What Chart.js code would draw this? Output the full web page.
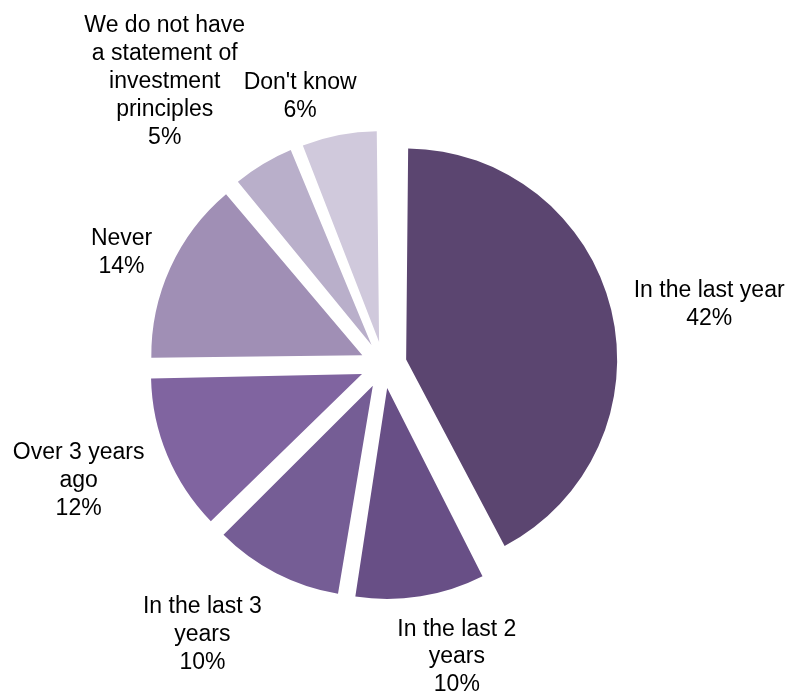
<!DOCTYPE html>
<html>
<head>
<meta charset="utf-8">
<title>When was the statement of investment principles last reviewed?</title>
<script src="https://cdn.jsdelivr.net/npm/chart.js@4/dist/chart.umd.min.js"></script>
<style>
  html, body { margin: 0; padding: 0; background: #ffffff; }
  #wrap { width: 791px; height: 691px; }
</style>
</head>
<body>
<div id="wrap"><canvas id="pie" width="791" height="691"></canvas></div>
<script>
// Answer categories (each entry holds the wrapped lines of the label)
const categories = [
  ['In the last year'],
  ['In the last 2', 'years'],
  ['In the last 3', 'years'],
  ['Over 3 years', 'ago'],
  ['Never'],
  ['We do not have', 'a statement of', 'investment', 'principles'],
  ["Don't know"]
];

// Share of respondents, in percent
const shares = [42, 10, 10, 12, 14, 5, 6];

// Slice fills, darkest for the first answer
const sliceColors = ['#5B4570', '#684F86', '#755D95', '#8064A0', '#A08FB5', '#B9AFCA', '#D0C9DC'];

// Geometry and label styling
const PIE_RADIUS = 211;
const EXPLODE = 23.3;            // distance each slice is pulled out from the centre
const LABEL_GAP = 12;
const LABEL_FONT = '23px "Liberation Sans", Arial, Helvetica, sans-serif';
const LINE_HEIGHT = 27.8;
const labelNudge = [[13, 3], [25, 6], [-41, 12], [-17, 3], [-10, 0], [-51, -14], [-26, -1]];

// Chart.js grows an offset arc's radius a little; undo that so every slice keeps the same radius
const evenRadius = {
  id: 'evenRadius',
  afterDatasetUpdate(chart, args) {
    const meta = args.meta;
    meta.data.forEach(arc => {
      const fix = 1 - Math.sin(Math.min(Math.PI, arc.circumference || 0));
      arc.outerRadius = PIE_RADIUS - (EXPLODE) * fix;
    });
  }
};

// Category name + percentage placed outside each slice
const outsideLabels = {
  id: 'outsideLabels',
  afterDatasetsDraw(chart) {
    const ctx = chart.ctx;
    const meta = chart.getDatasetMeta(0);
    ctx.save();
    ctx.font = LABEL_FONT;
    ctx.fillStyle = '#000000';
    ctx.textAlign = 'center';
    ctx.textBaseline = 'alphabetic';
    meta.data.forEach((arc, i) => {
      const lines = categories[i].concat([shares[i] + '%']);
      const mid = (arc.startAngle + arc.endAngle) / 2;
      const ux = Math.cos(mid), uy = Math.sin(mid);
      const r = PIE_RADIUS + EXPLODE + LABEL_GAP;
      const w = Math.max(...lines.map(t => ctx.measureText(t).width));
      const h = lines.length * LINE_HEIGHT;
      const cx = arc.x + ux * r + ux * w / 2 + labelNudge[i][0];
      const cy = arc.y + uy * r + uy * h / 2 + labelNudge[i][1];
      const firstBase = cy + 8 - (lines.length - 1) * LINE_HEIGHT / 2;
      lines.forEach((t, k) => ctx.fillText(t, cx, firstBase + k * LINE_HEIGHT));
    });
    ctx.restore();
  }
};

new Chart(document.getElementById('pie'), {
  type: 'pie',
  data: {
    labels: categories,
    datasets: [{
      data: shares,
      backgroundColor: sliceColors,
      borderWidth: 0,
      offset: EXPLODE * 4,
      hoverOffset: 0,
      radius: PIE_RADIUS
    }]
  },
  options: {
    responsive: false,
    animation: false,
    events: [],
    layout: { padding: { left: 0, right: 24, top: 39, bottom: 0 } },
    plugins: {
      legend: { display: false },
      tooltip: { enabled: false }
    }
  },
  plugins: [evenRadius, outsideLabels]
});
</script>
</body>
</html>
